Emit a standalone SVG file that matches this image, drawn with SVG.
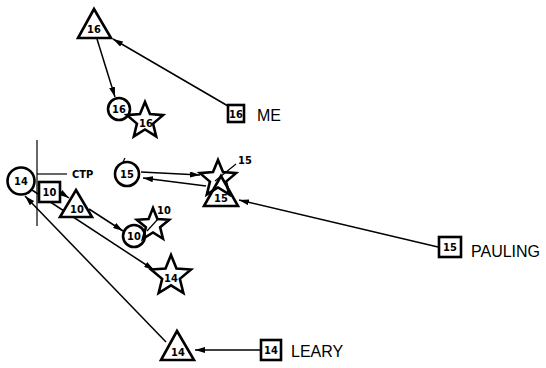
<svg xmlns="http://www.w3.org/2000/svg" xmlns:xlink="http://www.w3.org/1999/xlink" width="546" height="368" viewBox="0 0 546 368">
<style>
.shape{fill:#fff;stroke:#000;stroke-width:2.6;stroke-linejoin:miter}
.open{fill:none;stroke:#000;stroke-width:2.6}
.edge{fill:none;stroke:#000;stroke-width:1.5;marker-end:url(#ah)}
.thin{fill:none;stroke:#000;stroke-width:1.2}
.lbl{font-family:"Liberation Sans Narrow","DejaVu Sans Condensed","Liberation Sans",sans-serif;font-size:11px;font-weight:bold;text-anchor:middle;fill:#000}
.name{font-family:"Liberation Sans","Arial",sans-serif;font-size:16px;fill:#000}
.small{font-family:"Liberation Sans Narrow","DejaVu Sans Condensed","Liberation Sans",sans-serif;font-size:11px;font-weight:bold;fill:#000}
</style>
<defs>
<marker id="ah" viewBox="0 0 10 6" refX="10" refY="3" markerWidth="10" markerHeight="6" markerUnits="userSpaceOnUse" orient="auto">
<path d="M0,0 L10,3 L0,6 Z" fill="#000"/>
</marker>
<path id="star19" d="M0,-19 L5,-6.88 L18.07,-5.87 L8.08,2.63 L11.17,15.37 L0,8.5 L-11.17,15.37 L-8.08,2.63 L-18.07,-5.87 L-5,-6.88 Z"/>
<path id="star17" d="M0,-17 L4.41,-6.07 L16.17,-5.25 L7.13,2.32 L9.99,13.75 L0,7.5 L-9.99,13.75 L-7.13,2.32 L-16.17,-5.25 L-4.41,-6.07 Z"/>
<path id="star21" d="M0,-21 L5.47,-7.52 L19.97,-6.49 L8.84,2.87 L12.34,16.99 L0,9.3 L-12.34,16.99 L-8.84,2.87 L-19.97,-6.49 L-5.47,-7.52 Z"/>
</defs>

<g id="connectors">
<line class="edge" x1="228" y1="106" x2="113" y2="39"/>
<line class="edge" x1="97" y1="39" x2="115" y2="97"/>
<line class="edge" x1="60" y1="192" x2="69" y2="198"/>
<line class="edge" x1="89" y1="209" x2="123" y2="231"/>
<line class="edge" x1="32" y1="190" x2="154" y2="270"/>
<line class="edge" x1="166" y1="342" x2="25" y2="196"/>
<line class="edge" x1="141" y1="172" x2="200" y2="175"/>
<line class="edge" x1="206" y1="186" x2="143" y2="178"/>
<line class="edge" x1="438" y1="247" x2="239" y2="200"/>
<line class="edge" x1="260" y1="350" x2="195" y2="350"/>
<line class="thin" x1="37" y1="140" x2="37" y2="226"/>
<line class="thin" x1="37" y1="174" x2="67" y2="174"/>
<line class="thin" x1="215" y1="181" x2="236" y2="164"/>
<line class="thin" x1="147" y1="231" x2="158" y2="219"/>
<line class="thin" x1="123" y1="162" x2="125" y2="158"/>
</g>

<g id="tri16">
<path class="shape" d="M94,9 L111,38 L78,38 Z"/>
<text class="lbl" x="94" y="33">16</text>
</g>
<g id="circ16">
<circle class="shape" cx="119" cy="109" r="11"/>
<text class="lbl" x="119" y="113">16</text>
</g>
<g id="star16">
<use xlink:href="#star19" class="open" x="145" y="121"/>
<text class="lbl" x="146" y="127">16</text>
</g>
<g id="boxME">
<rect class="shape" x="228" y="105" width="16" height="17"/>
<text class="lbl" x="236" y="118">16</text>
<text class="name" x="257" y="121">ME</text>
</g>

<g id="circ14">
<circle class="shape" cx="21" cy="181" r="13.5"/>
<text class="lbl" x="21" y="185">14</text>
</g>
<g id="ctp">
<text class="small" x="72" y="178">CTP</text>
</g>
<g id="box10">
<rect class="shape" x="39" y="182" width="21" height="20"/>
<text class="lbl" x="49.5" y="196">10</text>
</g>
<g id="tri10">
<path class="shape" d="M76,190 L92,217 L60,217 Z"/>
<text class="lbl" x="77" y="213">10</text>
</g>
<g id="circ10">
<circle class="shape" cx="134" cy="236" r="11"/>
<text class="lbl" x="134" y="240">10</text>
</g>
<g id="star10">
<use xlink:href="#star17" class="open" x="153" y="225"/>
<text class="small" x="157" y="214">10</text>
</g>

<g id="circ15">
<circle class="shape" cx="127" cy="174" r="12"/>
<text class="lbl" x="127" y="178">15</text>
</g>
<g id="tri15">
<path class="shape" d="M221,176 L238,206 L204,206 Z"/>
<text class="lbl" x="221" y="202">15</text>
</g>
<g id="star15">
<use xlink:href="#star19" class="open" x="218" y="179"/>
<text class="small" x="238" y="164">15</text>
</g>
<g id="boxPAULING">
<rect class="shape" x="439" y="237" width="22" height="20"/>
<text class="lbl" x="450" y="251">15</text>
<text class="name" x="471" y="257">PAULING</text>
</g>

<g id="star14">
<use xlink:href="#star21" class="open" x="171" y="276"/>
<text class="lbl" x="171" y="282">14</text>
</g>
<g id="tri14">
<path class="shape" d="M177,331 L194,360 L161,360 Z"/>
<text class="lbl" x="178" y="356">14</text>
</g>
<g id="boxLEARY">
<rect class="shape" x="261" y="340" width="20" height="20"/>
<text class="lbl" x="271" y="354">14</text>
<text class="name" x="291" y="357">LEARY</text>
</g>
</svg>
